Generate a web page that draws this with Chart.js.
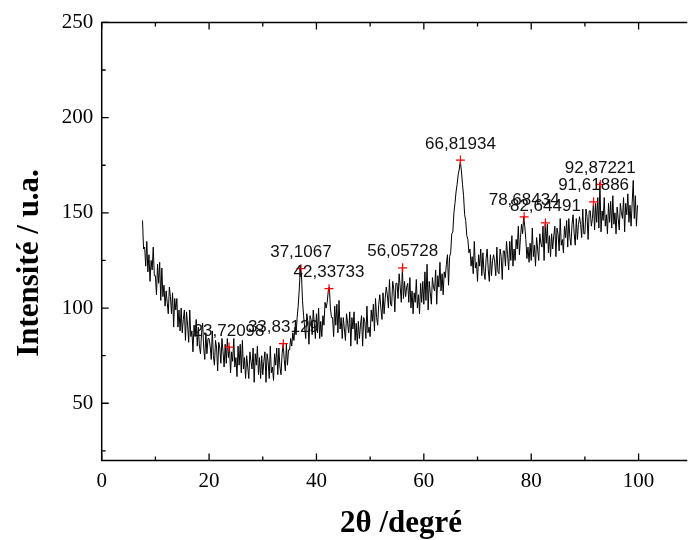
<!DOCTYPE html>
<html><head><meta charset="utf-8">
<script src="https://cdn.jsdelivr.net/npm/chart.js@4.4.1/dist/chart.umd.min.js"></script>
<style>html,body{margin:0;padding:0;background:#fff;overflow:hidden}#wrap{width:691px;height:540px;position:relative}</style>
</head><body><div id="wrap"><canvas id="c" width="691" height="540"></canvas></div>
<script>
// 2θ sampling grid of the measured pattern
const thetaStart = 7.6;
const thetaStep = 0.2;
// Measured intensity (u.a.), one value per 0.2° step, 7.6° … 99.8°
const intensity = [
146,131,
132,122,135,119,128, 114,125,120,132,117, 117,107,123,113,124, 104,121,106,112,101,
109,103,97,111,106, 97,108,90,105,99, 105,90,99,88,100, 87,94,99,83,98,
91,82,99,85,88, 77,91,85,94,80, 90,80,76,87,92, 79,73,87,76,84,
84,80,73,88,75, 70,83,79,67,82, 79,71,84,77,69, 81,71,84,74,80,
66,77,72,84,69, 74,64,80,70,81, 66,83,68,74,63, 75,69,63,77,72,
68,79,61,76,70, 80,65,74,63,75, 65,72,77,61,76, 72,63,80,66,69,
62,76,70,79,65, 79,69,65,76,81, 73,67,81,70,78, 78,84,80,87,83,
90,86,95,101,110, 121,118,104,96,90, 84,97,93,81,96, 94,86,99,92,84,
97,87,100,84,93, 85,96,91,103,100, 103,109,111,100,95, 95,85,101,91,102,
87,104,89,95,84, 95,89,83,97,92, 87,98,80,95,89, 98,83,92,81,93,
84,91,96,80,95, 93,84,101,87,90, 85,99,93,102,88, 105,95,91,102,107,
100,94,108,97,105, 111,107,100,115,102, 101,114,110,98,113, 113,105,118,111,103,
121,105,114,106,111, 113,103,116,100,109, 97,108,103,115,100, 107,97,113,103,114,
102,119,104,123,99, 114,108,102,116,111, 109,120,102,117,111, 124,109,118,107,119,
116,123,128,112,127, 129,139,140,150,155, 161,165,170,173,177, 172,165,159,149,146,
138,136,129,131,122, 127,118,135,121,124, 114,128,122,131,117, 129,119,115,126,131,
120,114,128,117,125, 128,124,117,132,119, 118,131,127,115,130, 130,122,135,128,120,
135,125,138,122,131, 125,136,131,143,128, 137,144,139,148,143, 136,126,132,124,134,
125,142,127,133,122, 137,131,125,139,134, 132,143,125,144,134, 144,129,138,127,139,
131,138,143,127,142, 139,130,147,133,136, 129,143,137,146,132, 147,137,133,144,149,
139,133,147,136,144, 148,144,137,152,139, 139,152,148,136,151, 151,143,147,156,141,
155,145,158,142,166, 140,151,146,158,143, 149,139,155,145,156, 142,159,144,150,139,
153,147,141,155,150, 147,158,140,155,149, 160,145,154,143,155, 167,147,159,143,154
];
// Labelled peaks
const peakTheta = [23.72098, 33.83129, 37.1067, 42.33733, 56.05728, 66.81934, 78.68434, 82.64491, 91.61886, 92.87221];
const peakIntensity = [79.5, 81.3, 120.7, 110.2, 121.1, 177.7, 147.9, 144.7, 155.8, 164.9];
const peakLabels = ['23,72098','33,83129','37,1067','42,33733','56,05728','66,81934','78,68434','82,64491','91,61886','92,87221'];
// Axis ticks
const xMajorTicks = [0, 20, 40, 60, 80, 100];
const xMinorTicks = [10, 30, 50, 70, 90];
const yMajorTicks = [50, 100, 150, 200, 250];
const yMinorTicks = [25, 75, 125, 175, 225];
const xTitle = '2θ /degré';
const yTitle = 'Intensité / u.a.';

const lineData = intensity.map((v, i) => ({x: +(thetaStart + i * thetaStep).toFixed(1), y: v}));
const peakData = peakTheta.map((t, i) => ({x: t, y: peakIntensity[i]}));

const SERIF = '"Liberation Serif", "Times New Roman", serif';
const SANS = '"Liberation Sans", Arial, sans-serif';

const framePlugin = {
  id: 'frame',
  afterDatasetsDraw(chart) {
    const ctx = chart.ctx, xs = chart.scales.x, ys = chart.scales.y;
    ctx.save();
    ctx.fillStyle = '#111';
    ctx.font = '17px ' + SANS;
    ctx.textAlign = 'center';
    ctx.textBaseline = 'alphabetic';
    peakTheta.forEach((t, i) => {
      const px = xs.getPixelForValue(t), py = ys.getPixelForValue(peakIntensity[i]);
      ctx.fillText(peakLabels[i], px, py - 11.5);
    });
    ctx.restore();
  },
  afterDraw(chart) {
    const ctx = chart.ctx, xs = chart.scales.x, ys = chart.scales.y, a = chart.chartArea;
    ctx.save();
    ctx.strokeStyle = '#000';
    ctx.lineWidth = 1.5;
    ctx.beginPath();
    ctx.moveTo(a.right + 2, a.top); ctx.lineTo(a.left, a.top); ctx.lineTo(a.left, a.bottom); ctx.lineTo(a.right + 2, a.bottom);
    ctx.stroke();
    ctx.lineWidth = 1.3;
    ctx.beginPath();
    const tx = (v, len) => { const p = xs.getPixelForValue(v); ctx.moveTo(p, a.bottom); ctx.lineTo(p, a.bottom - len); ctx.moveTo(p, a.top); ctx.lineTo(p, a.top + len); };
    const ty = (v, len) => { const p = ys.getPixelForValue(v); ctx.moveTo(a.left, p); ctx.lineTo(a.left + len, p); };
    xMajorTicks.forEach(v => tx(v, 7));
    xMinorTicks.forEach(v => tx(v, 4));
    yMajorTicks.forEach(v => ty(v, 7));
    yMinorTicks.forEach(v => ty(v, 4));
    ctx.stroke();
    ctx.fillStyle = '#000';
    ctx.font = 'bold 31px ' + SERIF;
    ctx.textAlign = 'center';
    ctx.textBaseline = 'alphabetic';
    ctx.fillText(xTitle, 401, 532);
    ctx.translate(38, 263);
    ctx.rotate(-Math.PI / 2);
    ctx.fillText(yTitle, 0, 0);
    ctx.restore();
  }
};

new Chart(document.getElementById('c'), {
  type: 'line',
  data: {
    datasets: [
      {data: peakData, showLine: false, pointStyle: 'cross', pointRadius: 4.5, pointBorderColor: '#ff0000', pointBorderWidth: 1.2, borderColor: '#ff0000', backgroundColor: '#ff0000'},
      {data: lineData, borderColor: '#000', borderWidth: 1, pointRadius: 0, tension: 0, fill: false}
    ]
  },
  options: {
    responsive: false,
    animation: false,
    events: [],
    layout: {padding: {top: 22.4, left: 0, right: 0, bottom: 0}},
    plugins: {legend: {display: false}, tooltip: {enabled: false}},
    scales: {
      x: {
        type: 'linear', position: 'bottom', min: 0, max: 108.7,
        grid: {display: false, drawTicks: false}, border: {display: false},
        ticks: {stepSize: 20, includeBounds: false, autoSkip: false, maxRotation: 0, padding: 8.5, color: '#000', font: {family: SERIF, size: 21}},
        afterFit: s => { s.height = 79.6; }
      },
      y: {
        type: 'linear', position: 'left', min: 20, max: 250,
        grid: {display: false, drawTicks: false}, border: {display: false},
        ticks: {stepSize: 50, includeBounds: false, autoSkip: false, padding: 8.5, color: '#000', font: {family: SERIF, size: 21}},
        afterFit: s => { s.width = 101.7; }
      }
    }
  },
  plugins: [framePlugin]
});
</script>
</body></html>
